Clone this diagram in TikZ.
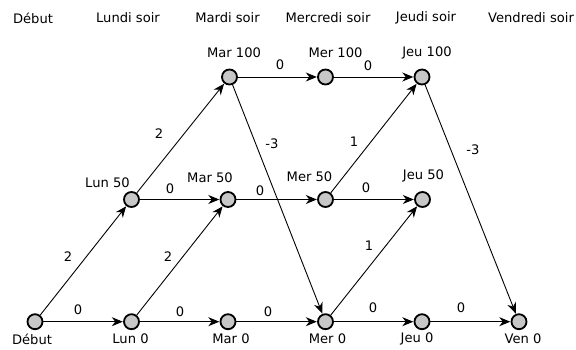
\documentclass[tikz,border=0pt]{standalone}
\usepackage{fontspec}
\setmainfont{DejaVu Sans}
\usetikzlibrary{arrows.meta}
\tikzset{
  state/.style={circle, draw=black, line width=1.8pt, fill=black!22, minimum size=15pt, inner sep=0pt},
  txt/.style={font=\fontsize{13.1pt}{15pt}\selectfont, inner sep=0pt, anchor=center},
  arr/.style={-{Stealth[length=11pt, width=9pt, inset=3.5pt]}, line width=0.9pt, black, shorten >=0.3pt},
}
\begin{document}
\begin{tikzpicture}[x=1pt, y=-1pt]
\useasboundingbox (0,0) rectangle (576,350);
% headers
\node[txt] (h0) at (33,18) {Début};
\node[txt] (h1) at (128,18) {Lundi soir};
\node[txt] (h2) at (227.5,18) {Mardi soir};
\node[txt] (h3) at (328,18) {Mercredi soir};
\node[txt] (h4) at (426,18) {Jeudi soir};
\node[txt] (h5) at (531,18) {Vendredi soir};
% states
\node[state] (deb) at (35,321.7) {};
\node[state] (lun0) at (131.5,321.7) {};
\node[state] (mar0) at (228,321.7) {};
\node[state] (mer0) at (325.5,321.7) {};
\node[state] (jeu0) at (422,321.7) {};
\node[state] (ven0) at (519,321.7) {};
\node[state] (lun50) at (131.5,199.5) {};
\node[state] (mar50) at (228,199.5) {};
\node[state] (mer50) at (325.5,199.5) {};
\node[state] (jeu50) at (422.5,199.5) {};
\node[state] (mar100) at (229.5,77) {};
\node[state] (mer100) at (325.5,77) {};
\node[state] (jeu100) at (422,77) {};
% state labels
\node[txt] (tdeb) at (32,339) {Début};
\node[txt] (tlun0) at (130.5,339) {Lun 0};
\node[txt] (tmar0) at (231,339) {Mar 0};
\node[txt] (tmer0) at (327.5,339) {Mer 0};
\node[txt] (tjeu0) at (417,339) {Jeu 0};
\node[txt] (tven0) at (523,339) {Ven 0};
\node[txt] (tlun50) at (107.5,183) {Lun 50};
\node[txt] (tmar50) at (210,178) {Mar 50};
\node[txt] (tmer50) at (309.5,177) {Mer 50};
\node[txt] (tjeu50) at (423.5,176) {Jeu 50};
\node[txt] (tmar100) at (234,52.5) {Mar 100};
\node[txt] (tmer100) at (335.5,52.5) {Mer 100};
\node[txt] (tjeu100) at (427,52.5) {Jeu 100};
% edges
\draw[arr] (deb) -- (lun0);
\draw[arr] (lun0) -- (mar0);
\draw[arr] (mar0) -- (mer0);
\draw[arr] (mer0) -- (jeu0);
\draw[arr] (jeu0) -- (ven0);
\draw[arr] (deb) -- (lun50);
\draw[arr] (lun0) -- (mar50);
\draw[arr] (lun50) -- (mar50);
\draw[arr] (mar50) -- (mer50);
\draw[arr] (mer50) -- (jeu50);
\draw[arr] (mer0) -- (jeu50);
\draw[arr] (lun50) -- (mar100);
\draw[arr] (mar100) -- (mer100);
\draw[arr] (mer100) -- (jeu100);
\draw[arr] (mer50) -- (jeu100);
\draw[arr] (mar100) -- (mer0);
\draw[arr] (jeu100) -- (ven0);
% edge labels
\node[txt] (e1) at (78,310) {0};
\node[txt] (e2) at (180,312) {0};
\node[txt] (e3) at (268,312) {0};
\node[txt] (e4) at (373,308) {0};
\node[txt] (e5) at (461,308) {0};
\node[txt] (e6) at (68,257) {2};
\node[txt] (e7) at (168,257) {2};
\node[txt] (e8) at (170,189) {0};
\node[txt] (e9) at (260,191) {0};
\node[txt] (e10) at (366,188) {0};
\node[txt] (e11) at (369,246) {1};
\node[txt] (e12) at (159,134) {2};
\node[txt] (e13) at (280,64.5) {0};
\node[txt] (e14) at (368,66) {0};
\node[txt] (e15) at (354,142) {1};
\node[txt] (e16) at (272,144) {-3};
\node[txt] (e17) at (473,150) {-3};
\end{tikzpicture}
\end{document}
